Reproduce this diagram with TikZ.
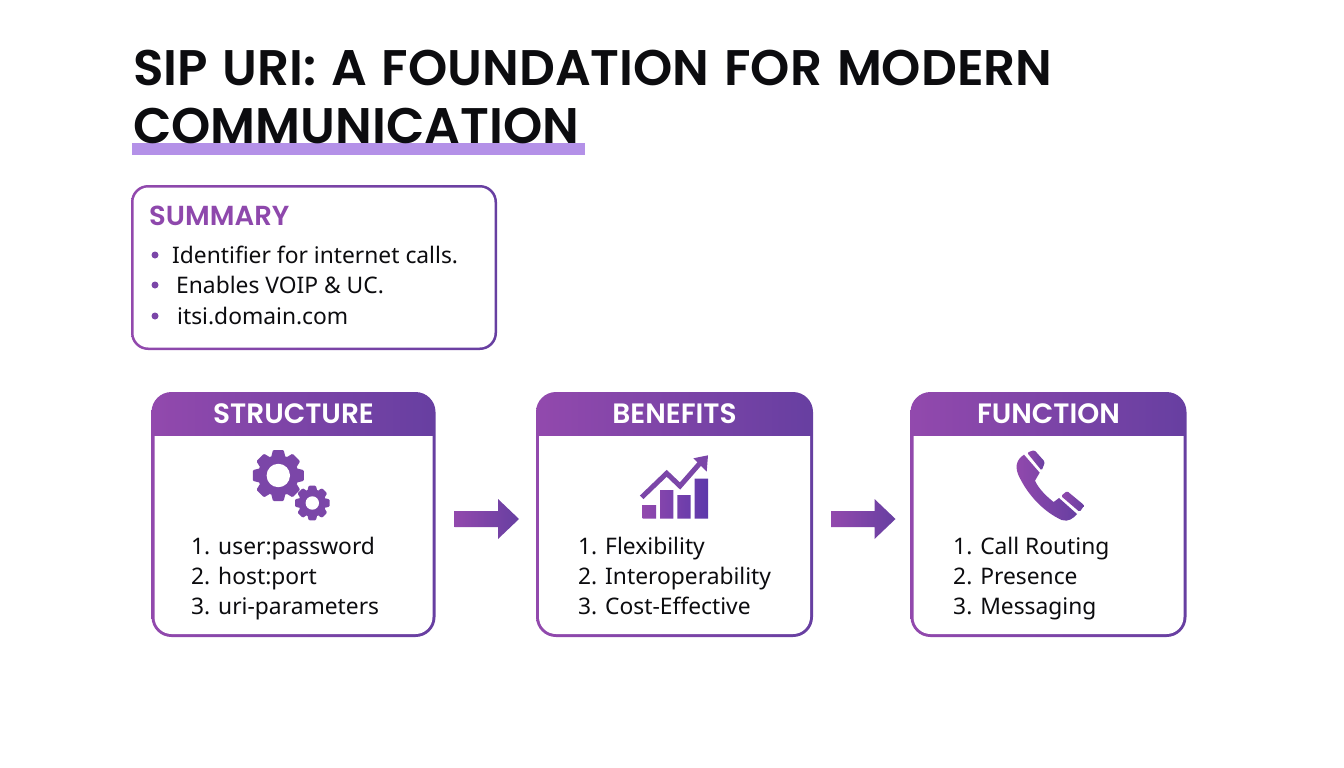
\documentclass[tikz,border=0pt]{standalone}
\usepackage{fontspec}
\setmainfont{Noto Sans}
\newfontfamily\headfont{Poppins}[BoldFont=* SemiBold]
\usetikzlibrary{calc}

\definecolor{purpleL}{HTML}{9249AD}
\definecolor{purpleR}{HTML}{673FA1}
\definecolor{purpleMid}{HTML}{7B46A8}
\definecolor{underbar}{HTML}{B491E8}
\definecolor{inkblack}{HTML}{0C0C0F}

\newcommand{\widewords}{\spaceskip=14.75pt\relax}

\tikzset{
  grad/.style={left color=purpleL,right color=purpleR,draw=none},
  panel/.style={grad,rounded corners=20,inner sep=0,outer sep=0,minimum height=245},
  headline/.style={anchor=base west,inner sep=0,text=inkblack,font=\headfont\bfseries\fontsize{50}{50}\selectfont},
  paneltitle/.style={inner sep=0,text=white,font=\headfont\bfseries\fontsize{28}{28}\selectfont},
  listline/.style={anchor=base west,inner sep=0,text=inkblack,font=\fontsize{22.8}{23}\selectfont},
  dotmark/.style={circle,fill=purpleMid,inner sep=0,minimum size=7},
  flowarrow/.style={grad,to path={
    ($(\tikztostart)+(0,-8)$) -- ($(\tikztotarget)+(-21,-8)$) -- ($(\tikztotarget)+(-21,-20)$)
    -- (\tikztotarget) -- ($(\tikztotarget)+(-21,20)$) -- ($(\tikztotarget)+(-21,8)$)
    -- ($(\tikztostart)+(0,8)$) -- cycle}},
  pics/gearicon/.style n args={3}{code={
    \fill[purpleMid] (0,0) circle (#1*0.8);
    \foreach \a in {0,45,...,315}
      \fill[purpleMid,rotate=\a,rounded corners=1] (#1*0.72,-#1*0.28) -- (#1,-#1*0.21) -- (#1,#1*0.21) -- (#1*0.72,#1*0.28) -- cycle;
    \fill[white] (0,0) circle (#2);
  }},
}

\begin{document}
\begin{tikzpicture}[x=1pt,y=-1pt]
\useasboundingbox (0,0) rectangle (1344,768);

% title
\fill[underbar] (132,143) rectangle (585,155);
\node[headline] (title1) at (133,85) {\widewords SIP URI: A FOUNDATION FOR MODERN};
\node[headline] (title2) at (133,143) {COMMUNICATION};

% summary
\node[grad,rounded corners=17,inner sep=0,outer sep=0,minimum width=366,minimum height=165] (summary) at (314,267.5) {};
\fill[white,rounded corners=15] ($(summary.south west)+(2.5,-2.5)$) rectangle ($(summary.north east)+(-2.5,2.5)$);
\node[anchor=base west,inner sep=0,text=purpleL!90!purpleR,font=\headfont\bfseries\fontsize{27.5}{27.5}\selectfont] (summaryhead) at (149,225) {SUMMARY};
\foreach \t/\x/\y [count=\n] in {Identifier for internet calls./172/263,Enables VOIP \& UC./176/293,itsi.domain.com/177/324} {
  \node[dotmark] (dot\n) at (155,\y-8) {};
  \node[listline] (item\n) at (\x,\y) {\t};
}

% panels
\node[panel,minimum width=284] (structure) at (293.5,514.5) {};
\node[panel,minimum width=277] (benefits) at (674.5,514.5) {};
\node[panel,minimum width=276] (function) at (1048.5,514.5) {};
\foreach \p/\t in {structure/STRUCTURE,benefits/BENEFITS,function/FUNCTION} {
  \fill[white] ($(\p.north west)+(3,44)$) [rounded corners=17] -- ($(\p.south west)+(3,-3)$) -- ($(\p.south east)+(-3,-3)$) [sharp corners] -- ($(\p.north east)+(-3,44)$) -- cycle;
  \node[paneltitle] (\p-title) at ($(\p.north)+(0,22)$) {\t};
}

% lists
\foreach \t [count=\n] in {user:password,host:port,uri-parameters}
  \node[listline] (structure-\n) at (191,524+30*\n) {\n. \t};
\foreach \t [count=\n] in {Flexibility,Interoperability,Cost-Effective}
  \node[listline] (benefits-\n) at (578,524+30*\n) {\n. \t};
\foreach \t [count=\n] in {Call Routing,Presence,Messaging}
  \node[listline] (function-\n) at (953,524+30*\n) {\n. \t};

% arrows
\coordinate (arrow1a) at ($(structure.east)+(19,4.5)$);
\coordinate (arrow1b) at ($(benefits.west)+(-17,4.5)$);
\coordinate (arrow2a) at ($(benefits.east)+(18,4.5)$);
\coordinate (arrow2b) at ($(function.west)+(-15,4.5)$);
\path[flowarrow] (arrow1a) to (arrow1b);
\path[flowarrow] (arrow2a) to (arrow2b);

% gears
\pic at (278.3,475.5) {gearicon={25.5}{11.7}{}};
\pic at (312.3,503) {gearicon={17.3}{6.7}{}};

% chart
\path[left color=purpleL,right color=purpleR!90!blue] (642.7,505) rectangle (656,518.5) (660,490) rectangle (673.3,518.5) (677.3,495) rectangle (690.7,518.5) (694.7,478.5) rectangle (708,518.5);
\draw[purpleMid,line width=5] (641.7,497.3) -- (666.7,473.3) -- (680,486) -- (701,462);
\fill[purpleMid] (708,455.3) -- (693.3,458.3) -- (706.7,471.7) -- cycle;

% phone
\begin{scope}[shift={(1005,440)},scale=0.3333]
\path[grad] (57,44) .. controls (32,60) and (28,85) .. (45,115) .. controls (70,165) and (115,215) .. (170,240) .. controls (190,247) and (205,235) .. (216,222) -- (162,174) -- (146,186) .. controls (125,170) and (100,145) .. (90,122) -- (104,98) -- cycle;
\path[grad,rounded corners=1.5] (66,38) -- (88,30) -- (120,66) -- (110,92) -- cycle;
\path[grad,rounded corners=1.5] (168,168) -- (186,153) -- (238,196) -- (224,216) -- cycle;
\end{scope}
\end{tikzpicture}
\end{document}
